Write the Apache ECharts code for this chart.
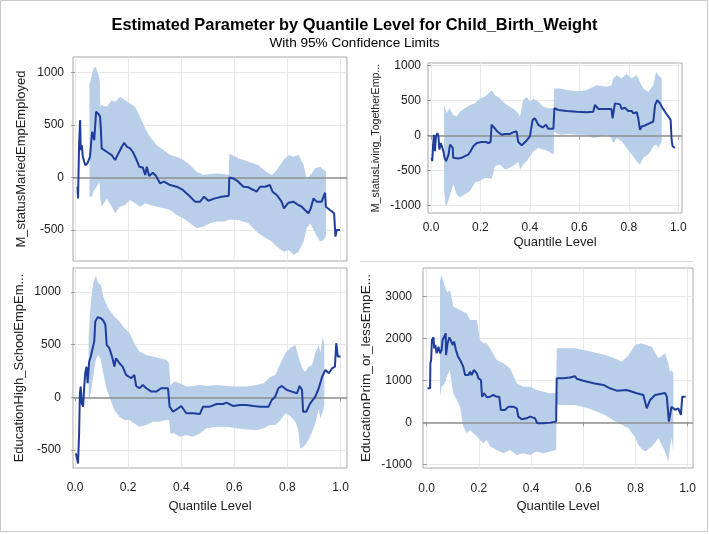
<!DOCTYPE html>
<html><head><meta charset="utf-8">
<script src="https://cdn.jsdelivr.net/npm/echarts@6/dist/echarts.min.js"></script>
<style>html,body{margin:0;padding:0;background:#fff}#c{width:709px;height:534px}</style>
</head><body><div id="c"></div>
<script>
const titleText = 'Estimated Parameter by Quantile Level for Child_Birth_Weight';
const subtitleText = 'With 95% Confidence Limits';
const xName = 'Quantile Level';
const yNames = ['M_statusMariedEmpEmployed', 'M_statusLiving_TogetherEmp...', 'EducationHigh_SchoolEmpEm...', 'EducationPrim_or_lessEmpE...'];
const xTicks = [0, 0.2, 0.4, 0.6, 0.8, 1.0];
const yTicks1 = [-500, 0, 500, 1000];
const yTicks2 = [-1000, -500, 0, 500, 1000];
const yTicks3 = [-500, 0, 500, 1000];
const yTicks4 = [-1000, 0, 1000, 2000, 3000];

// Panel 1: M_statusMariedEmpEmployed  [quantile, estimate]
const est1 = [[0.009,-89],[0.011,-200],[0.015,323],[0.019,545],[0.021,260],[0.025,307],[0.029,196],[0.038,117],[0.046,133],[0.056,196],[0.064,434],[0.072,355],[0.079,624],[0.089,602],[0.094,577],[0.097,466],[0.100,276],[0.119,244],[0.138,212],[0.151,165],[0.163,228],[0.176,292],[0.185,330],[0.195,292],[0.207,276],[0.217,244],[0.232,165],[0.242,101],[0.255,95],[0.264,22],[0.270,101],[0.279,13],[0.293,44],[0.305,13],[0.320,-57],[0.335,-41],[0.358,-73],[0.383,-89],[0.406,-120],[0.427,-168],[0.452,-231],[0.471,-231],[0.486,-184],[0.502,-222],[0.527,-200],[0.552,-184],[0.579,-174],[0.581,0],[0.596,-10],[0.615,-41],[0.634,-89],[0.653,-95],[0.672,-120],[0.684,-136],[0.697,-89],[0.716,-89],[0.734,-73],[0.744,-136],[0.760,-168],[0.778,-231],[0.787,-295],[0.804,-241],[0.822,-231],[0.841,-263],[0.854,-279],[0.866,-310],[0.879,-342],[0.888,-295],[0.898,-200],[0.910,-231],[0.929,-231],[0.942,-146],[0.945,-279],[0.960,-310],[0.976,-342],[0.981,-564],[0.986,-500],[0.998,-500]];
// [quantile, lower, upper]
const band1 = [[0.054,-184,878],[0.063,-184,973],[0.070,-130,1040],[0.078,-100,1051],[0.089,-57,973],[0.093,-60,900],[0.095,-200,672],[0.100,-279,688],[0.119,-200,672],[0.138,-279,735],[0.151,-342,719],[0.169,-279,767],[0.188,-263,735],[0.207,-215,703],[0.226,-247,672],[0.245,-279,577],[0.264,-247,466],[0.282,-263,387],[0.308,-279,307],[0.333,-295,260],[0.358,-310,212],[0.383,-358,196],[0.408,-390,165],[0.433,-437,117],[0.458,-485,54],[0.483,-469,22],[0.508,-437,32],[0.534,-421,38],[0.559,-421,32],[0.579,-406,22],[0.581,-400,228],[0.615,-406,181],[0.653,-437,149],[0.690,-532,117],[0.720,-580,54],[0.741,-611,22],[0.760,-659,70],[0.785,-707,165],[0.804,-691,212],[0.823,-738,196],[0.842,-707,212],[0.861,-611,117],[0.873,-485,-25],[0.886,-437,22],[0.905,-532,86],[0.923,-611,101],[0.936,-596,70],[0.945,-560,60]];

// Panel 2: M_statusLiving_TogetherEmp...
const est2 = [[0.003,-316],[0.005,-363],[0.009,-104],[0.012,14],[0.016,-222],[0.020,-9],[0.026,38],[0.030,-9],[0.034,-198],[0.039,-104],[0.044,-151],[0.050,-222],[0.055,-316],[0.061,-363],[0.066,-387],[0.071,-269],[0.077,-127],[0.082,-118],[0.088,-175],[0.090,-316],[0.096,-340],[0.111,-325],[0.124,-316],[0.137,-292],[0.151,-269],[0.160,-222],[0.171,-151],[0.185,-104],[0.205,-90],[0.222,-90],[0.232,-104],[0.241,-90],[0.245,156],[0.255,118],[0.268,61],[0.286,14],[0.299,24],[0.317,24],[0.334,52],[0.346,61],[0.353,-90],[0.367,-137],[0.384,-80],[0.400,-9],[0.407,14],[0.411,226],[0.420,250],[0.434,156],[0.451,118],[0.465,156],[0.474,99],[0.495,99],[0.499,392],[0.515,368],[0.549,354],[0.589,344],[0.629,335],[0.656,344],[0.663,439],[0.677,382],[0.710,382],[0.730,382],[0.734,250],[0.740,226],[0.744,462],[0.764,448],[0.771,382],[0.784,401],[0.798,354],[0.811,354],[0.818,321],[0.832,335],[0.838,250],[0.845,85],[0.852,132],[0.865,146],[0.885,179],[0.899,203],[0.906,439],[0.915,509],[0.926,462],[0.937,392],[0.950,321],[0.960,274],[0.969,226],[0.973,-57],[0.977,-151],[0.987,-175]];
const band2 = [[0.053,-788,439],[0.058,-976,392],[0.063,-1000,321],[0.074,-882,392],[0.090,-693,297],[0.104,-835,274],[0.117,-882,344],[0.137,-835,392],[0.158,-788,439],[0.178,-670,462],[0.198,-646,533],[0.218,-599,557],[0.239,-608,627],[0.245,-623,651],[0.259,-434,580],[0.279,-410,533],[0.299,-481,462],[0.319,-458,415],[0.340,-410,368],[0.353,-363,321],[0.360,-481,274],[0.373,-410,509],[0.387,-363,557],[0.400,-292,486],[0.414,-222,533],[0.434,-175,486],[0.454,-198,415],[0.474,-222,392],[0.496,-269,392],[0.498,52,675],[0.522,14,675],[0.555,24,651],[0.589,14,637],[0.629,14,651],[0.656,-33,698],[0.670,-24,722],[0.710,14,698],[0.730,-33,722],[0.737,-104,816],[0.751,-33,863],[0.771,-80,816],[0.791,-175,887],[0.811,-269,816],[0.832,-363,863],[0.845,-410,769],[0.858,-316,675],[0.879,-269,627],[0.899,-151,722],[0.910,-127,910],[0.919,-175,863],[0.933,-80,816]];

// Panel 3: EducationHigh_SchoolEmpEm...
const est3 = [[0.003,-533],[0.009,-533],[0.011,-629],[0.015,-343],[0.018,38],[0.021,102],[0.025,-57],[0.030,-89],[0.034,86],[0.038,229],[0.043,292],[0.047,133],[0.053,340],[0.059,387],[0.066,467],[0.072,530],[0.076,721],[0.085,762],[0.097,752],[0.106,730],[0.114,689],[0.119,498],[0.129,467],[0.139,387],[0.148,292],[0.154,371],[0.167,324],[0.179,292],[0.192,213],[0.211,181],[0.223,213],[0.230,108],[0.242,86],[0.255,117],[0.268,86],[0.287,54],[0.306,54],[0.324,86],[0.350,86],[0.356,-89],[0.369,-137],[0.388,-105],[0.400,-83],[0.419,-152],[0.444,-152],[0.470,-159],[0.482,-89],[0.508,-89],[0.533,-64],[0.558,-64],[0.571,-51],[0.596,-83],[0.621,-73],[0.646,-73],[0.672,-83],[0.697,-89],[0.729,-89],[0.741,-25],[0.754,6],[0.766,86],[0.779,108],[0.798,70],[0.817,54],[0.836,38],[0.846,108],[0.855,70],[0.859,-137],[0.871,-137],[0.886,-57],[0.905,6],[0.918,86],[0.931,197],[0.943,260],[0.956,229],[0.968,276],[0.979,292],[0.984,514],[0.987,451],[0.990,387],[1.000,387]];
const band3 = [[0.051,-25,578],[0.059,38,895],[0.068,200,1086],[0.078,356,1156],[0.087,403,1086],[0.097,356,1070],[0.106,229,959],[0.116,102,895],[0.129,6,832],[0.148,-121,768],[0.167,-184,721],[0.186,-216,657],[0.205,-216,610],[0.223,-248,514],[0.242,-279,435],[0.268,-264,403],[0.293,-232,387],[0.318,-232,371],[0.343,-216,356],[0.354,-216,324],[0.359,-343,117],[0.375,-343,149],[0.394,-375,133],[0.419,-359,102],[0.444,-375,108],[0.470,-343,117],[0.495,-295,108],[0.533,-279,117],[0.571,-279,108],[0.609,-295,102],[0.646,-305,102],[0.684,-311,117],[0.710,-295,133],[0.735,-264,190],[0.754,-264,213],[0.773,-220,320],[0.792,-152,419],[0.811,-180,470],[0.830,-232,498],[0.840,-300,400],[0.848,-486,330],[0.859,-470,260],[0.867,-454,244],[0.880,-400,290],[0.893,-327,308],[0.905,-250,420],[0.918,-105,498],[0.924,-200,420],[0.933,-137,578],[0.939,-80,500]];

// Panel 4: EducationPrim_or_lessEmpE...
const est4 = [[0.003,811],[0.013,811],[0.014,1408],[0.017,1487],[0.020,1964],[0.026,2028],[0.029,1765],[0.033,1845],[0.038,1646],[0.045,1805],[0.051,1646],[0.057,1726],[0.061,1964],[0.068,2004],[0.073,2123],[0.074,1606],[0.080,1885],[0.087,2028],[0.093,2044],[0.100,1845],[0.105,1924],[0.112,1726],[0.120,1567],[0.128,1487],[0.134,1503],[0.140,1328],[0.147,1129],[0.160,1129],[0.166,1209],[0.172,1129],[0.181,1248],[0.192,1169],[0.198,1050],[0.208,1010],[0.212,612],[0.220,692],[0.230,596],[0.243,612],[0.255,652],[0.268,612],[0.278,612],[0.284,294],[0.300,294],[0.313,374],[0.332,374],[0.345,334],[0.351,135],[0.364,72],[0.383,95],[0.396,135],[0.415,95],[0.424,-24],[0.447,-24],[0.473,-8],[0.496,16],[0.498,1050],[0.524,1050],[0.549,1070],[0.568,1100],[0.575,1040],[0.600,990],[0.639,930],[0.677,891],[0.702,811],[0.728,755],[0.766,771],[0.805,692],[0.830,652],[0.837,612],[0.843,334],[0.856,533],[0.875,652],[0.913,700],[0.920,612],[0.928,16],[0.938,374],[0.951,300],[0.964,330],[0.974,175],[0.979,612],[0.992,612]];
const band4 = [[0.051,612,3396],[0.057,851,3515],[0.070,930,3237],[0.079,1129,3100],[0.089,1250,3157],[0.096,900,2950],[0.102,692,2760],[0.128,374,2680],[0.140,-103,2640],[0.153,-262,2600],[0.166,-183,2441],[0.192,-342,2441],[0.204,-420,1964],[0.217,-501,1885],[0.230,-421,1885],[0.243,-580,1765],[0.268,-660,1487],[0.294,-740,1408],[0.319,-660,1288],[0.345,-779,930],[0.370,-740,851],[0.396,-779,851],[0.421,-700,771],[0.447,-740,731],[0.473,-700,692],[0.496,-660,692],[0.498,413,1765],[0.568,413,1765],[0.619,334,1700],[0.683,175,1606],[0.722,16,1520],[0.747,-60,1447],[0.773,-143,1600],[0.798,-350,1845],[0.811,-541,1870],[0.824,-640,1885],[0.837,-700,1850],[0.862,-580,1805],[0.888,-382,1527],[0.913,-700,1646],[0.926,-938,1400],[0.932,-600,1209],[0.939,-382,1250],[0.945,-700,1169]];

const FONT = '"Liberation Sans", Arial, sans-serif';
const LINE = '#1f3d9b';
const BAND = '#b8cee9';
const TXT = '#222';

const panels = [
  { grid: {left: 73, top: 57, width: 274, height: 204}, x: [-0.008, 1.0245], y: [-796, 1146], yt: yTicks1, est: est1, band: band1, name: yNames[0], nameSize: 13, showX: false, yGap: 45, yMargin: 9 },
  { grid: {left: 428, top: 63, width: 254, height: 150}, x: [-0.0121, 1.015], y: [-1104, 1039], yt: yTicks2, est: est2, band: band2, name: yNames[1], nameSize: 10.6, showX: true, xMargin: 9, xGap: 23, yGap: 46, yMargin: 7 },
  { grid: {left: 73, top: 268, width: 274, height: 200}, x: [-0.008, 1.0245], y: [-672, 1229], yt: yTicks3, est: est3, band: band3, name: yNames[2], nameSize: 13, showX: true, xMargin: 14, xGap: 32, yGap: 47, yMargin: 12 },
  { grid: {left: 423, top: 268, width: 270, height: 200}, x: [-0.0142, 1.0203], y: [-1091, 3683], yt: yTicks4, est: est4, band: band4, name: yNames[3], nameSize: 13.6, showX: true, xMargin: 15, xGap: 32, yGap: 50, yMargin: 11 }
];

function bandRender(params, api) {
  if (params.dataIndexInside !== 0) return null;
  const n = params.dataInsideLength;
  const lo = [], hi = [];
  for (let i = 0; i < n; i++) {
    const q = api.value(0, i);
    lo.push(api.coord([q, api.value(1, i)]));
    hi.push(api.coord([q, api.value(2, i)]));
  }
  return { type: 'polygon', silent: true, shape: { points: lo.concat(hi.reverse()) }, style: { fill: BAND } };
}

const option = {
  animation: false,
  backgroundColor: '#ffffff',
  textStyle: { fontFamily: FONT },
  title: [
    { text: titleText, left: 'center', top: 12, textStyle: { fontFamily: FONT, fontSize: 16.4, fontWeight: 'bold', color: '#000' } },
    { text: subtitleText, left: 'center', top: 31, textStyle: { fontFamily: FONT, fontSize: 13.6, fontWeight: 'normal', color: '#000' } }
  ],
  graphic: [
    { type: 'rect', shape: { x: 0.5, y: 0.5, width: 707, height: 531 }, style: { fill: 'none', stroke: '#c8c8c8', lineWidth: 1 }, silent: true },
    { type: 'line', shape: { x1: 360, y1: 261.5, x2: 693, y2: 261.5 }, style: { stroke: '#dcdcdc', lineWidth: 1 }, silent: true }
  ],
  grid: panels.map(p => Object.assign({ show: true, borderColor: '#a8a8a8', borderWidth: 1, backgroundColor: '#fff', containLabel: false }, p.grid)),
  xAxis: panels.map((p, i) => ({
    type: 'value', gridIndex: i, min: p.x[0], max: p.x[1],
    name: p.showX ? xName : '', nameLocation: 'middle', nameGap: p.xGap || 30,
    nameTextStyle: { fontFamily: FONT, fontSize: 13, color: TXT },
    axisLine: { show: false },
    axisTick: { show: p.showX, length: 4, lineStyle: { color: '#9a9a9a' }, customValues: xTicks },
    axisLabel: { show: p.showX, customValues: xTicks, margin: p.xMargin || 10, fontFamily: FONT, fontSize: 12, color: TXT, formatter: v => v.toFixed(1) },
    splitLine: { show: true, lineStyle: { color: '#e8e8e8', width: 1 } }
  })),
  yAxis: panels.map((p, i) => ({
    type: 'value', gridIndex: i, min: p.y[0], max: p.y[1],
    name: p.name, nameLocation: 'middle', nameGap: p.yGap, nameRotate: 90,
    nameTextStyle: { fontFamily: FONT, fontSize: p.nameSize, color: TXT },
    axisLine: { show: false },
    axisTick: { show: true, length: 4, lineStyle: { color: '#9a9a9a' }, customValues: p.yt },
    axisLabel: { customValues: p.yt, margin: p.yMargin, fontFamily: FONT, fontSize: 12, color: TXT, formatter: v => String(Math.round(v)) },
    splitLine: { show: true, lineStyle: { color: '#e8e8e8', width: 1 } }
  })),
  series: panels.flatMap((p, i) => [
    { type: 'custom', xAxisIndex: i, yAxisIndex: i, z: 1, silent: true, clip: true,
      data: p.band, encode: { x: 0, y: [1, 2] }, renderItem: bandRender },
    { type: 'line', xAxisIndex: i, yAxisIndex: i, z: 3, silent: true, clip: true,
      data: p.est, showSymbol: false, symbol: 'none',
      lineStyle: { color: LINE, width: 2 },
      markLine: { silent: true, symbol: ['none', 'none'], z: 2, animation: false, label: { show: false },
        lineStyle: { color: '#8f8f8f', width: 1.5, type: 'solid' }, data: [{ yAxis: 0 }] } }
  ])
};

const chart = echarts.init(document.getElementById('c'), null, { renderer: 'canvas' });
chart.setOption(option);
</script>
</body></html>
